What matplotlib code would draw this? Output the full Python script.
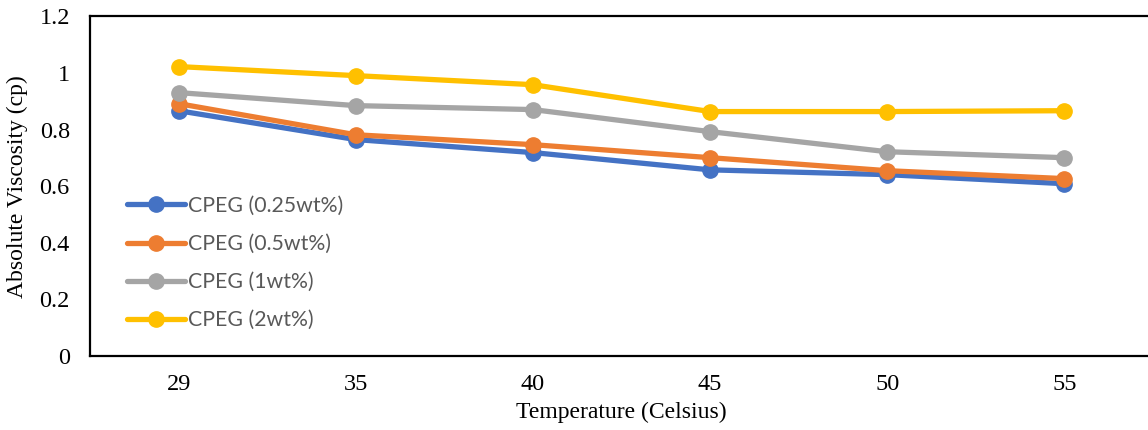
import matplotlib.pyplot as plt

temps = ['29', '35', '40', '45', '50', '55']
cpeg_025 = [0.867, 0.765, 0.719, 0.658, 0.641, 0.609]
cpeg_05 = [0.892, 0.782, 0.747, 0.701, 0.655, 0.627]
cpeg_1 = [0.931, 0.885, 0.871, 0.793, 0.722, 0.701]
cpeg_2 = [1.023, 0.991, 0.959, 0.864, 0.864, 0.867]

series = [
    ('CPEG (0.25wt%)', cpeg_025, '#4472C4'),
    ('CPEG (0.5wt%)', cpeg_05, '#ED7D31'),
    ('CPEG (1wt%)', cpeg_1, '#A5A5A5'),
    ('CPEG (2wt%)', cpeg_2, '#FFC000'),
]

fig = plt.figure(figsize=(11.48, 4.30), dpi=100)
W, H = 1148, 430
left, right, top, bottom = 90, 1153, 16.5, 356
ax = fig.add_axes([left / W, 1 - bottom / H, (right - left) / W, (bottom - top) / H])

x = list(range(len(temps)))
for label, vals, color in series:
    ax.plot(x, vals, color=color, lw=3.8, marker='o', ms=11,
            solid_capstyle='round', label=label)

ax.set_xlim(-0.5, 5.5)
ax.set_ylim(0, 1.2)
ax.set_xticks(x)
ax.set_xticklabels(temps)
ax.set_yticks([0, 0.2, 0.4, 0.6, 0.8, 1.0, 1.2])
ax.set_yticklabels(['0', '0.2', '0.4', '0.6', '0.8', '1', '1.2'])

serif = 'Liberation Serif'
for lbl in ax.get_xticklabels() + ax.get_yticklabels():
    lbl.set_fontfamily(serif)
    lbl.set_fontsize(17.5)
ax.tick_params(axis='both', length=0, colors='black')
ax.tick_params(axis='y', pad=14.5)
ax.tick_params(axis='x', pad=13)

for side in ['top', 'left', 'bottom']:
    ax.spines[side].set_linewidth(1.6)
    ax.spines[side].set_color('black')
ax.spines['right'].set_visible(False)

ax.set_xlabel('Temperature (Celsius)', fontfamily=serif, fontsize=17)
ax.set_ylabel('Absolute Viscosity (cp)', fontfamily=serif, fontsize=17)
ax.xaxis.set_label_coords(0.5, -0.136)
ax.yaxis.set_label_coords(-0.058, 0.5)

leg = ax.legend(loc='center left', bbox_to_anchor=(0.035, 0.274), frameon=False,
                prop={'family': 'Lato', 'size': 15.3}, handlelength=2.7,
                handletextpad=0.15, labelspacing=0.85, borderpad=0,
                borderaxespad=0)
for t in leg.get_texts():
    t.set_color('#595959')

fig.savefig('out.png', dpi=100)
